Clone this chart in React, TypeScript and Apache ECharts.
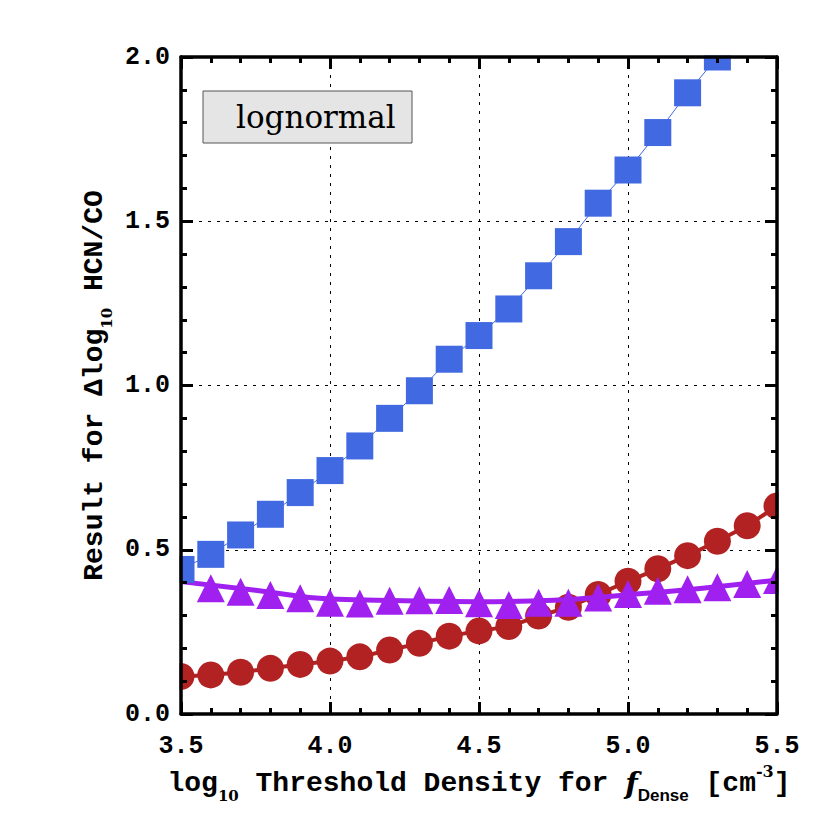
import React, { useEffect, useRef } from 'react';
import * as echarts from 'echarts';

// log10 threshold density for f_Dense
const DENSITY = [3.5, 3.6, 3.7, 3.8, 3.9, 4.0, 4.1, 4.2, 4.3, 4.4, 4.5, 4.6, 4.7, 4.8, 4.9, 5.0, 5.1, 5.2, 5.3, 5.4, 5.5];
// blue squares (3.5 .. 5.3)
const SQUARE_X = [3.5, 3.6, 3.7, 3.8, 3.9, 4.0, 4.1, 4.2, 4.3, 4.4, 4.5, 4.6, 4.7, 4.8, 4.9, 5.0, 5.1, 5.2, 5.3];
const SQUARE_Y = [0.44, 0.486, 0.545, 0.608, 0.674, 0.741, 0.816, 0.9, 0.984, 1.08, 1.152, 1.233, 1.334, 1.438, 1.555, 1.656, 1.77, 1.891, 2.0];
// red circles (3.5 .. 5.5)
const CIRCLE_Y = [0.114, 0.119, 0.127, 0.139, 0.151, 0.161, 0.174, 0.195, 0.215, 0.237, 0.253, 0.266, 0.298, 0.325, 0.364, 0.404, 0.442, 0.482, 0.526, 0.573, 0.633];
// purple triangles (3.6 .. 5.5)
const TRI_X = [3.6, 3.7, 3.8, 3.9, 4.0, 4.1, 4.2, 4.3, 4.4, 4.5, 4.6, 4.7, 4.8, 4.9, 5.0, 5.1, 5.2, 5.3, 5.4, 5.5];
const TRI_Y = [0.383, 0.372, 0.362, 0.352, 0.339, 0.336, 0.345, 0.346, 0.347, 0.337, 0.332, 0.339, 0.339, 0.355, 0.365, 0.375, 0.38, 0.386, 0.396, 0.408];
// purple fit curve
const FIT_X = [3.5, 3.75, 4.0, 4.25, 4.5, 4.75, 5.0, 5.25, 5.5];
const FIT_Y = [0.403, 0.377, 0.35, 0.345, 0.342, 0.346, 0.363, 0.383, 0.408];

const X_TICKS = { min: 3.5, max: 5.5, interval: 0.5 };
const Y_TICKS = { min: 0, max: 2.0, interval: 0.5 };
const LEGEND_LABEL = 'lognormal';

const BLUE = '#4169E1';
const RED = '#B22222';
const PURPLE = '#A020F0';
const MONO = '"Liberation Mono", "DejaVu Sans Mono", monospace';
const SERIF = '"DejaVu Serif", "Liberation Serif", serif';

const pair = (xs: number[], ys: number[]) => xs.map((x, i) => [x, ys[i]]);

const richStyles = {
  sub: { fontFamily: SERIF, fontWeight: 'bold', fontSize: 15, lineHeight: 15, verticalAlign: 'bottom', color: '#000' },
  subs: { fontFamily: '"Liberation Sans", sans-serif', fontWeight: 'bold', fontSize: 17, lineHeight: 17, verticalAlign: 'bottom', color: '#000' },
  sup: { fontFamily: SERIF, fontWeight: 'bold', fontSize: 16, lineHeight: 16, verticalAlign: 'top', color: '#000' },
  it: { fontFamily: SERIF, fontStyle: 'italic', fontWeight: 'bold', fontSize: 29, lineHeight: 40, color: '#000' },
};

const nameStyle = {
  fontFamily: MONO,
  fontWeight: 'bold',
  fontSize: 28,
  lineHeight: 40,
  color: '#000',
  rich: richStyles,
};

function overlayAxis(position: string, showLabels: boolean, extra: any = {}) {
  return {
    type: 'value',
    position,
    z: 10,
    axisLine: { show: true, onZero: false, lineStyle: { color: '#000', width: 3.5 } },
    axisTick: { show: true, inside: true, length: 12, lineStyle: { color: '#000', width: 3 } },
    minorTick: { show: true, splitNumber: 5, length: 6, lineStyle: { color: '#000', width: 3 } },
    splitLine: { show: false },
    axisLabel: {
      show: showLabels,
      showMinLabel: true,
      showMaxLabel: true,
      hideOverlap: false,
      fontFamily: MONO,
      fontWeight: 'bold',
      fontSize: 25,
      color: '#000',
      formatter: (v: number) => v.toFixed(1),
    },
    ...extra,
  };
}

function gridAxis(position: string) {
  return {
    type: 'value',
    position,
    z: 0,
    axisLine: { show: false },
    axisTick: { show: false },
    minorTick: { show: false },
    axisLabel: { show: false },
    splitLine: { show: true, lineStyle: { color: '#000', width: 1, type: [3, 6] } },
  };
}

export default function App() {
  const ref = useRef<HTMLDivElement>(null);
  useEffect(() => {
    if (!ref.current) return;
    const chart = echarts.init(ref.current, null, { renderer: 'svg' });
    const option: any = {
      animation: false,
      backgroundColor: '#fff',
      grid: { left: 181, right: 53, top: 57, bottom: 116, containLabel: false },
      xAxis: [
        { ...gridAxis('bottom'), ...X_TICKS },
        {
          ...overlayAxis('bottom', true, {
            name: 'log{sub|10} Threshold Density for {it|f}{subs|Dense} [cm{sup|-3}]',
            nameLocation: 'middle',
            nameGap: 48,
            nameTextStyle: nameStyle,
          }),
          ...X_TICKS,
          axisLabel: { ...overlayAxis('bottom', true).axisLabel, margin: 20 },
        },
        { ...overlayAxis('top', false), ...X_TICKS },
      ],
      yAxis: [
        { ...gridAxis('left'), ...Y_TICKS },
        {
          ...overlayAxis('left', true, {
            name: 'Result for Δlog{sub|10} HCN/CO',
            nameLocation: 'middle',
            nameRotate: 90,
            nameGap: 64,
            nameTextStyle: nameStyle,
          }),
          ...Y_TICKS,
          axisLabel: { ...overlayAxis('left', true).axisLabel, margin: 11 },
        },
        { ...overlayAxis('right', false), ...Y_TICKS },
      ],
      series: [
        {
          type: 'line',
          name: 'circles',
          xAxisIndex: 0,
          yAxisIndex: 0,
          data: pair(DENSITY, CIRCLE_Y),
          symbol: 'circle',
          symbolSize: 27,
          showAllSymbol: true,
          lineStyle: { color: RED, width: 4 },
          itemStyle: { color: RED },
          z: 2,
        },
        {
          type: 'line',
          name: 'fit',
          xAxisIndex: 0,
          yAxisIndex: 0,
          data: pair(FIT_X, FIT_Y),
          smooth: true,
          showSymbol: false,
          symbol: 'none',
          lineStyle: { color: PURPLE, width: 5 },
          z: 3,
        },
        {
          type: 'scatter',
          name: 'triangles',
          xAxisIndex: 0,
          yAxisIndex: 0,
          data: pair(TRI_X, TRI_Y),
          symbol: 'triangle',
          symbolSize: 28,
          itemStyle: { color: PURPLE, opacity: 1 },
          z: 3,
        },
        {
          type: 'line',
          name: 'squares',
          xAxisIndex: 0,
          yAxisIndex: 0,
          data: pair(SQUARE_X, SQUARE_Y),
          symbol: 'rect',
          symbolSize: 27,
          showAllSymbol: true,
          lineStyle: { color: BLUE, width: 1 },
          itemStyle: { color: BLUE },
          z: 4,
        },
      ],
      graphic: [
        { type: 'rect', z: 6, silent: true, shape: { x: 0, y: 0, width: 830, height: 55.5 }, style: { fill: '#fff' } },
        { type: 'rect', z: 6, silent: true, shape: { x: 0, y: 0, width: 179.5, height: 830 }, style: { fill: '#fff' } },
        { type: 'rect', z: 6, silent: true, shape: { x: 778.5, y: 0, width: 52, height: 830 }, style: { fill: '#fff' } },
        { type: 'rect', z: 6, silent: true, shape: { x: 0, y: 715.5, width: 830, height: 115 }, style: { fill: '#fff' } },
        {
          type: 'group',
          z: 12,
          children: [
            { type: 'rect', z: 12, shape: { x: 203, y: 91, width: 209, height: 52 }, style: { fill: '#e5e5e5', stroke: '#555', lineWidth: 1 } },
            { type: 'text', z: 13, x: 236, y: 117, style: { text: LEGEND_LABEL, fontFamily: SERIF, fontSize: 31, fill: '#000', verticalAlign: 'middle', align: 'left' } },
          ],
        },
      ],
    };
    chart.setOption(option);
    return () => chart.dispose();
  }, []);
  return <div ref={ref} style={{ position: 'fixed', left: 0, top: 0, width: 830, height: 830 }} />;
}
